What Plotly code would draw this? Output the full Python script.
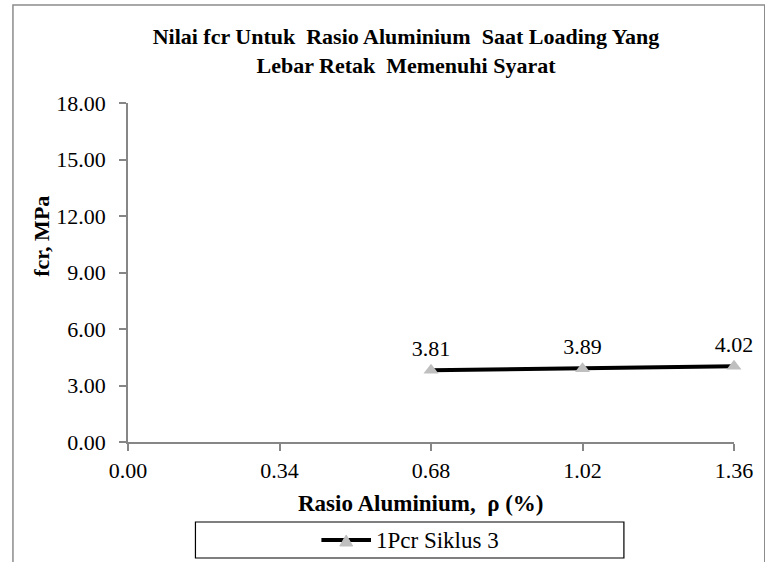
import plotly.graph_objects as go

x_vals = [0.68, 1.02, 1.36]
fcr_vals = [3.81, 3.89, 4.02]
series_name = "1Pcr Siklus 3"
x_ticks = [0.00, 0.34, 0.68, 1.02, 1.36]
y_ticks = [0, 3, 6, 9, 12, 15, 18]

W, H = 765, 562
L, R, T, B = 128, 26, 103, 120
pw, ph = W - L - R, H - T - B

def px(x):
    return (x - L) / pw

def py(y):
    return (H - B - y) / ph

FONT = "Liberation Serif"
AX = "#868686"

fig = go.Figure()
fig.add_trace(go.Scatter(
    x=x_vals, y=fcr_vals, mode="lines+markers+text",
    name=series_name,
    line=dict(color="black", width=4),
    marker=dict(symbol="triangle-up", size=13, color="#bfbfbf"),
    text=[f"{v:.2f}" for v in fcr_vals], textposition="top center",
    textfont=dict(family=FONT, size=22, color="black"),
    cliponaxis=False, showlegend=False,
))

shapes = [
    dict(type="rect", xref="paper", yref="paper", x0=px(12), x1=px(W + 5), y0=py(H + 5), y1=py(5),
         line=dict(color="#8c8c8c", width=1.5)),
    dict(type="rect", xref="paper", yref="paper", x0=px(196), x1=px(628), y0=py(558), y1=py(522),
         line=dict(color="black", width=1.2)),
    dict(type="line", xref="paper", yref="paper", x0=px(323), x1=px(373), y0=py(540), y1=py(540),
         line=dict(color="black", width=4)),
    dict(type="path", xref="paper", yref="paper",
         path=f"M {px(341.5)} {py(546)} L {px(354.5)} {py(546)} L {px(348)} {py(535)} Z",
         fillcolor="#bfbfbf", line=dict(color="#bfbfbf", width=1)),
]

annotations = [
    dict(xref="paper", yref="paper", x=px(376), y=py(540), xanchor="left", yanchor="middle",
         text=series_name, showarrow=False, font=dict(family=FONT, size=23, color="black")),
    dict(xref="paper", yref="paper", x=px(423), y=py(503), xanchor="center", yanchor="middle",
         text="<b>Rasio Aluminium,  ρ (%)</b>", showarrow=False,
         font=dict(family=FONT, size=23, color="black")),
    dict(xref="paper", yref="paper", x=px(40), y=py(236), xanchor="center", yanchor="middle",
         text="<b>fcr, MPa</b>", textangle=-90, showarrow=False,
         font=dict(family=FONT, size=22, color="black")),
]

fig.update_layout(
    width=W, height=H,
    margin=dict(l=L, r=R, t=T, b=B),
    paper_bgcolor="white", plot_bgcolor="white",
    title=dict(text="<b>Nilai fcr Untuk  Rasio Aluminium  Saat Loading Yang<br>Lebar Retak  Memenuhi Syarat</b>",
               x=406 / W, xanchor="center", xref="container",
               y=1 - 44 / H, yanchor="top", yref="container",
               font=dict(family=FONT, size=22, color="black")),
    xaxis=dict(range=[0, 1.36], tickvals=x_ticks, ticktext=[f"{v:.2f}" for v in x_ticks],
               showgrid=False, zeroline=False, showline=True, linecolor=AX, linewidth=1.5,
               ticks="outside", ticklen=7, tickcolor=AX, tickwidth=1.5, ticklabelstandoff=1,
               tickfont=dict(family=FONT, size=22, color="black")),
    yaxis=dict(range=[0, 18], tickvals=y_ticks, ticktext=[f"{v:.2f}" for v in y_ticks],
               showgrid=False, zeroline=False, showline=True, linecolor=AX, linewidth=1.5,
               ticks="outside", ticklen=7, tickcolor=AX, tickwidth=1.5, ticklabelstandoff=9,
               tickfont=dict(family=FONT, size=22, color="black")),
    shapes=shapes, annotations=annotations,
)

fig.write_html("out.html", post_script="document.body.style.margin='0px';",
               config={"displayModeBar": False})
